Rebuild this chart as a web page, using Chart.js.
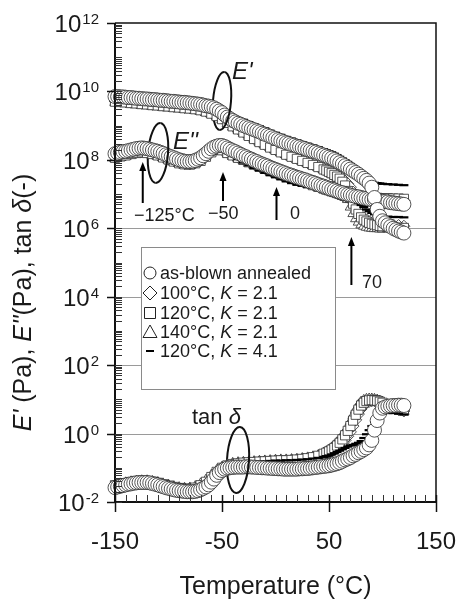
<!DOCTYPE html>
<html>
<head>
<meta charset="utf-8">
<script src="https://cdn.jsdelivr.net/npm/chart.js@4.4.1/dist/chart.umd.min.js"></script>
<style>
  html, body { margin: 0; padding: 0; background: #fff; }
  canvas { display: block; }
</style>
</head>
<body>
<canvas id="c" width="461" height="602"></canvas>
<script>
// Temperature grids (°C)
const tempFine = [
  -150,-147.5,-145,-142.5,-140,-137.5,-135,-132.5,-130,-127.5,
  -125,-122.5,-120,-117.5,-115,-112.5,-110,-107.5,-105,-102.5,
  -100,-97.5,-95,-92.5,-90,-87.5,-85,-82.5,-80,-77.5,
  -75,-72.5,-70,-67.5,-65,-62.5,-60,-57.5,-55,-52.5,
  -50,-47.5,-45,-42.5,-40,-37.5,-35,-32.5,-30,-27.5,
  -25,-22.5,-20,-17.5,-15,-12.5,-10,-7.5,-5,-2.5,
  0,2.5,5,7.5,10,12.5,15,17.5,20,22.5,
  25,27.5,30,32.5,35,37.5,40,42.5,45,47.5,
  50,52.5,55,57.5,60,62.5,65,67.5,70,72.5,
  75,77.5,80,82.5,85,87.5,90,92.5,95,97.5,
  100,102.5,105,107.5,110,112.5,115,117.5,120
];
const tempOther = [
  -150,-145,-140,-135,-130,-125,-120,-115,-110,-105,
  -100,-95,-90,-85,-80,-75,-70,-65,-60,-55,
  -50,-45,-40,-35,-30,-25,-20,-15,-10,-5,
  0,5,10,15,20,25,30,35,40,
  45,47.5,50,52.5,55,57.5,60,62.5,65,67.5,70,72.5,75,77.5,80,82.5,85,87.5,90,92.5,95,97.5,100,
  105,110,115,120
];

// as-blown annealed: log10 E' (Pa), log10 E'' (Pa), log10 tan δ
const logEpAsBlown = [
  9.85,9.85,9.84,9.84,9.83,9.82,9.82,9.81,9.80,9.80,
  9.79,9.78,9.78,9.77,9.76,9.76,9.75,9.74,9.74,9.73,
  9.72,9.71,9.71,9.70,9.69,9.68,9.68,9.67,9.66,9.65,
  9.64,9.63,9.62,9.60,9.58,9.57,9.55,9.52,9.48,9.43,
  9.38,9.31,9.25,9.20,9.15,9.11,9.07,9.04,9.00,8.97,
  8.94,8.91,8.88,8.85,8.82,8.78,8.75,8.72,8.69,8.65,
  8.62,8.59,8.56,8.53,8.50,8.48,8.45,8.43,8.40,8.38,
  8.35,8.33,8.30,8.28,8.25,8.23,8.20,8.17,8.14,8.11,
  8.08,8.05,8.01,7.97,7.92,7.88,7.83,7.78,7.73,7.68,
  7.63,7.58,7.52,7.46,7.40,7.32,7.20,6.90,6.55,6.35,
  6.22,6.16,6.10,6.05,6.00,5.96,5.92,5.89,5.86
];
const logEppAsBlown = [
  8.18,8.20,8.22,8.24,8.25,8.27,8.29,8.31,8.33,8.34,
  8.35,8.34,8.33,8.31,8.29,8.27,8.25,8.22,8.19,8.15,
  8.12,8.09,8.06,8.03,8.00,7.98,7.96,7.95,7.95,7.96,
  7.98,8.02,8.06,8.12,8.18,8.25,8.32,8.37,8.40,8.42,
  8.42,8.39,8.35,8.31,8.27,8.24,8.20,8.16,8.12,8.09,
  8.05,8.02,7.98,7.95,7.91,7.88,7.85,7.82,7.78,7.75,
  7.72,7.69,7.66,7.63,7.60,7.57,7.55,7.52,7.49,7.47,
  7.44,7.42,7.39,7.36,7.34,7.31,7.28,7.25,7.23,7.20,
  7.17,7.14,7.12,7.09,7.06,7.04,7.01,6.99,6.97,6.95,
  6.93,6.92,6.90,6.88,6.87,6.85,6.84,6.83,6.82,6.80,
  6.79,6.78,6.77,6.75,6.74,6.73,6.72,6.71,6.70
];
const logTanAsBlown = [
  -1.58,-1.56,-1.54,-1.52,-1.50,-1.48,-1.47,-1.45,-1.44,-1.43,
  -1.43,-1.43,-1.43,-1.44,-1.46,-1.48,-1.50,-1.53,-1.55,-1.58,
  -1.60,-1.62,-1.64,-1.66,-1.67,-1.68,-1.69,-1.70,-1.70,-1.70,
  -1.69,-1.67,-1.64,-1.60,-1.56,-1.50,-1.42,-1.33,-1.22,-1.14,
  -1.08,-1.04,-1.01,-1.00,-0.99,-0.98,-0.98,-0.98,-0.98,-0.97,
  -0.97,-0.98,-0.98,-0.99,-0.99,-1.00,-1.00,-1.01,-1.01,-1.02,
  -1.02,-1.03,-1.03,-1.04,-1.04,-1.04,-1.04,-1.04,-1.04,-1.03,
  -1.03,-1.02,-1.02,-1.01,-1.00,-0.99,-0.98,-0.97,-0.96,-0.95,
  -0.94,-0.92,-0.90,-0.88,-0.85,-0.81,-0.77,-0.74,-0.70,-0.65,
  -0.61,-0.56,-0.52,-0.47,-0.42,-0.33,-0.20,0.10,0.38,0.60,
  0.74,0.78,0.80,0.81,0.82,0.82,0.83,0.83,0.82
];

// 100 °C, K = 2.1
const logEp100K21 = [
  9.72,9.71,9.70,9.68,9.67,9.65,9.64,9.62,9.61,9.59,
  9.58,9.56,9.55,9.53,9.52,9.50,9.47,9.43,9.38,9.31,
  9.22,9.11,9.00,8.91,8.82,8.72,8.62,8.53,8.45,8.37,
  8.30,8.23,8.16,8.10,8.04,7.98,7.92,7.86,7.80,
  7.74,7.71,7.67,7.63,7.59,7.55,7.50,7.45,7.38,7.30,7.20,7.06,6.90,6.72,6.55,6.44,6.35,6.29,6.25,6.22,6.20,6.18,6.16,
  6.13,6.10,6.08,6.06
];
const logEpp100K21 = [
  8.08,8.12,8.15,8.19,8.22,8.24,8.22,8.19,8.15,8.09,
  8.03,7.97,7.92,7.89,7.88,7.91,7.98,8.10,8.24,8.31,
  8.30,8.22,8.15,8.08,8.02,7.95,7.88,7.82,7.76,7.70,
  7.64,7.58,7.53,7.48,7.43,7.38,7.33,7.28,7.23,
  7.18,7.15,7.13,7.10,7.08,7.05,7.03,7.00,6.98,6.96,6.94,6.92,6.91,6.90,6.89,6.88,6.88,6.87,6.87,6.86,6.86,6.85,6.85,
  6.84,6.83,6.82,6.81
];
const logTan100K21 = [
  -1.52,-1.49,-1.46,-1.43,-1.41,-1.40,-1.40,-1.42,-1.45,-1.49,
  -1.53,-1.57,-1.60,-1.62,-1.62,-1.60,-1.55,-1.46,-1.32,-1.15,
  -1.02,-0.94,-0.90,-0.88,-0.86,-0.85,-0.84,-0.83,-0.82,-0.81,
  -0.80,-0.80,-0.79,-0.78,-0.77,-0.75,-0.73,-0.70,-0.66,
  -0.61,-0.58,-0.55,-0.51,-0.47,-0.43,-0.38,-0.30,-0.20,-0.08,0.05,0.22,0.40,0.57,0.72,0.83,0.90,0.94,0.96,0.96,0.95,0.93,0.90,
  0.82,0.75,0.70,0.66
];

// 120 °C, K = 2.1
const logEp120K21 = [
  9.70,9.69,9.68,9.66,9.65,9.63,9.62,9.60,9.59,9.57,
  9.56,9.54,9.53,9.51,9.50,9.48,9.45,9.41,9.35,9.28,
  9.19,9.08,8.98,8.89,8.80,8.70,8.61,8.52,8.44,8.36,
  8.29,8.22,8.15,8.09,8.03,7.97,7.91,7.85,7.79,
  7.72,7.69,7.65,7.61,7.56,7.51,7.45,7.36,7.25,7.09,6.90,6.72,6.55,6.42,6.32,6.25,6.20,6.16,6.13,6.11,6.09,6.07,6.06,
  6.04,6.03,6.02,6.01
];
const logEpp120K21 = [
  8.06,8.10,8.13,8.17,8.20,8.22,8.20,8.17,8.13,8.07,
  8.01,7.95,7.90,7.87,7.86,7.90,7.97,8.09,8.22,8.29,
  8.28,8.20,8.13,8.06,8.00,7.93,7.86,7.80,7.74,7.68,
  7.62,7.56,7.51,7.46,7.41,7.36,7.31,7.26,7.21,
  7.16,7.13,7.11,7.08,7.06,7.03,7.01,6.98,6.96,6.94,6.93,6.92,6.91,6.90,6.90,6.90,6.90,6.89,6.89,6.89,6.89,6.88,6.88,
  6.88,6.87,6.87,6.86
];
const logTan120K21 = [
  -1.51,-1.48,-1.45,-1.42,-1.40,-1.39,-1.39,-1.41,-1.44,-1.48,
  -1.52,-1.56,-1.59,-1.61,-1.61,-1.58,-1.51,-1.41,-1.27,-1.12,
  -1.00,-0.93,-0.89,-0.87,-0.85,-0.84,-0.83,-0.82,-0.81,-0.80,
  -0.79,-0.78,-0.78,-0.77,-0.76,-0.74,-0.72,-0.69,-0.65,
  -0.59,-0.56,-0.52,-0.47,-0.42,-0.35,-0.27,-0.17,-0.05,0.08,0.22,0.38,0.55,0.70,0.82,0.90,0.95,0.97,0.98,0.97,0.96,0.93,0.90,
  0.83,0.76,0.71,0.67
];

// 140 °C, K = 2.1
const logEp140K21 = [
  9.68,9.67,9.66,9.64,9.63,9.61,9.60,9.58,9.57,9.55,
  9.54,9.52,9.51,9.49,9.48,9.46,9.43,9.39,9.33,9.26,
  9.17,9.06,8.96,8.87,8.78,8.69,8.60,8.51,8.43,8.35,
  8.28,8.21,8.14,8.08,8.02,7.96,7.90,7.84,7.78,
  7.71,7.67,7.63,7.58,7.53,7.46,7.38,7.24,7.05,6.84,6.62,6.43,6.28,6.18,6.10,6.06,6.03,6.01,6.00,5.99,5.99,5.98,5.98,
  5.98,5.97,5.97,5.96
];
const logEpp140K21 = [
  8.04,8.08,8.11,8.15,8.18,8.20,8.18,8.15,8.11,8.05,
  7.99,7.93,7.88,7.85,7.85,7.90,7.99,8.12,8.24,8.28,
  8.25,8.17,8.10,8.03,7.97,7.90,7.84,7.78,7.72,7.66,
  7.60,7.54,7.49,7.44,7.39,7.34,7.29,7.24,7.19,
  7.14,7.11,7.09,7.06,7.03,7.00,6.97,6.93,6.90,6.87,6.84,6.82,6.80,6.79,6.78,6.77,6.77,6.77,6.77,6.77,6.77,6.76,6.76,
  6.76,6.76,6.75,6.75
];
const logTan140K21 = [
  -1.50,-1.47,-1.44,-1.41,-1.39,-1.38,-1.38,-1.40,-1.43,-1.47,
  -1.51,-1.55,-1.58,-1.60,-1.59,-1.55,-1.47,-1.36,-1.22,-1.08,
  -0.98,-0.91,-0.87,-0.85,-0.84,-0.83,-0.82,-0.81,-0.80,-0.79,
  -0.78,-0.77,-0.77,-0.76,-0.75,-0.73,-0.71,-0.68,-0.64,
  -0.57,-0.53,-0.48,-0.42,-0.35,-0.27,-0.18,-0.07,0.05,0.19,0.35,0.53,0.70,0.83,0.92,0.97,1.00,1.01,1.01,1.00,0.98,0.95,0.92,
  0.84,0.76,0.70,0.65
];

// 120 °C, K = 4.1
const logEp120K41 = [
  9.82,9.81,9.80,9.79,9.78,9.77,9.76,9.74,9.73,9.72,
  9.70,9.69,9.67,9.66,9.64,9.62,9.60,9.57,9.54,9.49,
  9.42,9.34,9.27,9.22,9.17,9.10,9.04,8.98,8.92,8.85,
  8.79,8.73,8.67,8.62,8.57,8.52,8.47,8.42,8.37,
  8.31,8.28,8.25,8.22,8.18,8.14,8.09,8.04,7.99,7.94,7.88,7.82,7.76,7.69,7.62,7.55,7.48,7.41,7.36,7.33,7.32,7.31,7.30,
  7.29,7.28,7.27,7.26
];
const logEpp120K41 = [
  8.10,8.14,8.18,8.22,8.25,8.27,8.25,8.21,8.17,8.11,
  8.04,7.98,7.93,7.90,7.89,7.92,7.99,8.10,8.24,8.32,
  8.33,8.24,8.13,8.02,7.92,7.84,7.76,7.69,7.62,7.55,
  7.49,7.43,7.37,7.32,7.27,7.24,7.21,7.18,7.14,
  7.10,7.08,7.05,7.03,7.00,6.98,6.95,6.93,6.90,6.88,6.85,6.82,6.78,6.74,6.68,6.62,6.55,6.50,6.45,6.41,6.38,6.36,6.35,
  6.34,6.33,6.33,6.32
];
const logTan120K41 = [
  -1.55,-1.52,-1.49,-1.46,-1.44,-1.43,-1.43,-1.45,-1.48,-1.52,
  -1.56,-1.60,-1.63,-1.65,-1.65,-1.63,-1.58,-1.50,-1.37,-1.20,
  -1.05,-0.96,-0.91,-0.88,-0.86,-0.84,-0.83,-0.82,-0.81,-0.80,
  -0.79,-0.79,-0.78,-0.78,-0.77,-0.76,-0.75,-0.73,-0.71,
  -0.68,-0.66,-0.64,-0.61,-0.58,-0.54,-0.50,-0.46,-0.42,-0.38,-0.35,-0.33,-0.30,-0.27,-0.22,-0.13,-0.02,0.10,0.22,0.34,0.45,0.53,0.58,
  0.60,0.60,0.58,0.56
];

// Axis ticks
const xTickLabels = [-150, -50, 50, 150];
const yLabelPowers = [-2, 0, 2, 4, 6, 8, 10, 12];
const gridPowers = [0, 2, 4, 6];

// Legend / sample names
const sampleNames = [
  [['as-blown annealed', false]],
  [['100°C, ', false], ['K', true], [' = 2.1', false]],
  [['120°C, ', false], ['K', true], [' = 2.1', false]],
  [['140°C, ', false], ['K', true], [' = 2.1', false]],
  [['120°C, ', false], ['K', true], [' = 4.1', false]]
];

// ---------------------------------------------------------------
const FONT = '"Liberation Sans", Arial, Helvetica, sans-serif';
const INK = '#1a1a1a';

function toPoints(temps, logs) {
  return temps.map((t, i) => ({ x: t, y: Math.pow(10, logs[i]) }));
}

const markerStyles = [
  { pointStyle: 'circle',  pointRadius: 7,   pointBackgroundColor: '#fff', pointBorderColor: '#2a2a2a', pointBorderWidth: 0.8 },
  { pointStyle: 'line',    pointRadius: 4.5, pointBackgroundColor: '#000', pointBorderColor: '#000',    pointBorderWidth: 2.2 },
  { pointStyle: 'rect',    pointRadius: 6.5, pointBackgroundColor: '#fff', pointBorderColor: '#2a2a2a', pointBorderWidth: 0.8 },
  { pointStyle: 'rectRot', pointRadius: 6,   pointBackgroundColor: '#fff', pointBorderColor: '#2a2a2a', pointBorderWidth: 0.8 },
  { pointStyle: 'triangle',pointRadius: 6,   pointBackgroundColor: '#fff', pointBorderColor: '#2a2a2a', pointBorderWidth: 0.8 }
];

// drawing order: first entry ends up on top
const seriesSets = [
  { T: tempFine,  curves: [logEpAsBlown, logEppAsBlown, logTanAsBlown], style: markerStyles[0] },
  { T: tempOther, curves: [logEp120K41, logEpp120K41, logTan120K41],    style: markerStyles[1] },
  { T: tempOther, curves: [logEp120K21, logEpp120K21, logTan120K21],    style: markerStyles[2] },
  { T: tempOther, curves: [logEp100K21, logEpp100K21, logTan100K21],    style: markerStyles[3] },
  { T: tempOther, curves: [logEp140K21, logEpp140K21, logTan140K21],    style: markerStyles[4] }
];

const datasets = [];
seriesSets.forEach(s => {
  s.curves.forEach(c => {
    datasets.push(Object.assign({ data: toPoints(s.T, c), clip: false, showLine: false }, s.style));
  });
});

// ---------------------------------------------------------------
function richWidth(ctx, parts, size) {
  let w = 0;
  parts.forEach(([t, it]) => { ctx.font = (it ? 'italic ' : '') + size + 'px ' + FONT; w += ctx.measureText(t).width; });
  return w;
}
function drawRich(ctx, x, y, parts, size, align) {
  let cx = x;
  if (align === 'center') cx = x - richWidth(ctx, parts, size) / 2;
  ctx.textAlign = 'left';
  parts.forEach(([t, it]) => {
    ctx.font = (it ? 'italic ' : '') + size + 'px ' + FONT;
    ctx.fillText(t, cx, y);
    cx += ctx.measureText(t).width;
  });
}

const loops = [
  { cx: 222, cy: 101, rx: 9,  ry: 29, rot: 0.08 },
  { cx: 158, cy: 153, rx: 10, ry: 30, rot: 0.08 },
  { cx: 238, cy: 460, rx: 11, ry: 33, rot: 0.06 }
];
const arrows = [
  { t: -125, y0: 203, y1: 162 },
  { t: -50,  y0: 201, y1: 172 },
  { t: 0,    y0: 220, y1: 187 },
  { t: 70,   y0: 285, y1: 237 }
];

function drawArrow(ctx, x, y0, y1) {
  ctx.beginPath(); ctx.moveTo(x, y0); ctx.lineTo(x, y1 + 6); ctx.stroke();
  ctx.beginPath(); ctx.moveTo(x, y1); ctx.lineTo(x - 3.5, y1 + 9); ctx.lineTo(x + 3.5, y1 + 9); ctx.closePath(); ctx.fill();
}

function drawLegendMarker(ctx, kind, x, y) {
  ctx.save();
  ctx.strokeStyle = '#222'; ctx.fillStyle = '#fff'; ctx.lineWidth = 1;
  ctx.beginPath();
  if (kind === 0) { ctx.arc(x, y, 6, 0, Math.PI * 2); ctx.fill(); ctx.stroke(); }
  else if (kind === 1) { ctx.moveTo(x, y - 7); ctx.lineTo(x + 7, y); ctx.lineTo(x, y + 7); ctx.lineTo(x - 7, y); ctx.closePath(); ctx.fill(); ctx.stroke(); }
  else if (kind === 2) { ctx.rect(x - 5.5, y - 5.5, 11, 11); ctx.fill(); ctx.stroke(); }
  else if (kind === 3) { ctx.moveTo(x, y - 7); ctx.lineTo(x + 7, y + 5.5); ctx.lineTo(x - 7, y + 5.5); ctx.closePath(); ctx.fill(); ctx.stroke(); }
  else { ctx.lineWidth = 2; ctx.strokeStyle = '#000'; ctx.moveTo(x - 4, y); ctx.lineTo(x + 4, y); ctx.stroke(); }
  ctx.restore();
}

const decor = {
  id: 'decor',
  beforeDatasetsDraw(chart) {
    const { ctx, chartArea: a, scales: { y } } = chart;
    ctx.save();
    ctx.strokeStyle = '#9a9a9a'; ctx.lineWidth = 1;
    gridPowers.forEach(p => {
      const py = Math.round(y.getPixelForValue(Math.pow(10, p))) + 0.5;
      ctx.beginPath(); ctx.moveTo(a.left, py); ctx.lineTo(a.right, py); ctx.stroke();
    });
    // back halves of the loops around the curve bundles
    ctx.strokeStyle = '#111'; ctx.lineWidth = 2;
    loops.forEach(l => {
      ctx.beginPath(); ctx.ellipse(l.cx, l.cy, l.rx, l.ry, l.rot, Math.PI / 2, Math.PI * 1.5); ctx.stroke();
    });
    ctx.restore();
  },
  afterDatasetsDraw(chart) {
    const { ctx, chartArea: a, scales: { x, y } } = chart;
    ctx.save();

    // front halves of the loops
    ctx.strokeStyle = '#111'; ctx.lineWidth = 2;
    loops.forEach(l => {
      ctx.beginPath(); ctx.ellipse(l.cx, l.cy, l.rx, l.ry, l.rot, -Math.PI / 2, Math.PI / 2); ctx.stroke();
    });

    // frame
    ctx.strokeStyle = '#111';
    ctx.lineWidth = 1.5;
    ctx.beginPath(); ctx.moveTo(a.left, a.top); ctx.lineTo(a.right, a.top); ctx.lineTo(a.right, a.bottom); ctx.stroke();
    ctx.lineWidth = 2;
    ctx.beginPath(); ctx.moveTo(a.left, a.top); ctx.lineTo(a.left, a.bottom); ctx.lineTo(a.right + 1, a.bottom); ctx.stroke();

    // y ticks: decades and log minors inside, labelled decades outside
    ctx.lineWidth = 1; ctx.strokeStyle = '#333';
    for (let e = -2; e < 12; e++) {
      for (let m = 1; m < 10; m++) {
        const py = Math.round(y.getPixelForValue(m * Math.pow(10, e))) + 0.5;
        ctx.beginPath(); ctx.moveTo(a.left, py); ctx.lineTo(a.left + 7, py); ctx.stroke();
      }
    }
    ctx.strokeStyle = '#111'; ctx.lineWidth = 1.5;
    yLabelPowers.forEach(p => {
      const py = Math.round(y.getPixelForValue(Math.pow(10, p))) + 0.5;
      ctx.beginPath(); ctx.moveTo(a.left - 8, py); ctx.lineTo(a.left, py); ctx.stroke();
    });

    // x ticks: minors every 10 °C inside, labelled majors crossing the axis
    ctx.lineWidth = 1; ctx.strokeStyle = '#333';
    for (let t = -150; t <= 150; t += 10) {
      const px = Math.round(x.getPixelForValue(t)) + 0.5;
      ctx.beginPath(); ctx.moveTo(px, a.bottom); ctx.lineTo(px, a.bottom - 7); ctx.stroke();
    }
    ctx.strokeStyle = '#111'; ctx.lineWidth = 1.5;
    xTickLabels.forEach(t => {
      const px = Math.round(x.getPixelForValue(t)) + 0.5;
      ctx.beginPath(); ctx.moveTo(px, a.bottom + 10); ctx.lineTo(px, a.bottom - 7); ctx.stroke();
    });

    ctx.fillStyle = INK; ctx.textBaseline = 'alphabetic';

    // y tick labels 10^n
    yLabelPowers.forEach(p => {
      const py = y.getPixelForValue(Math.pow(10, p));
      const exp = String(p);
      ctx.font = '15px ' + FONT;
      const ew = ctx.measureText(exp).width;
      const right = a.left - 16;
      ctx.textAlign = 'left';
      ctx.fillText(exp, right - ew, py + 1);
      ctx.font = '24px ' + FONT;
      ctx.textAlign = 'right';
      ctx.fillText('10', right - ew - 1, py + 9);
    });

    // x tick labels
    ctx.font = '24px ' + FONT; ctx.textAlign = 'center';
    xTickLabels.forEach(t => ctx.fillText(String(t), x.getPixelForValue(t), a.bottom + 47));

    // axis titles
    ctx.font = '25px ' + FONT; ctx.textAlign = 'center';
    ctx.fillText('Temperature (°C)', (a.left + a.right) / 2, a.bottom + 92);

    ctx.save();
    ctx.translate(22, (a.top + a.bottom) / 2 + 40);
    ctx.rotate(-Math.PI / 2);
    drawRich(ctx, 0, 9, [["E'", true], [' (Pa), ', false], ["E''", true], ['(Pa), tan ', false], ['δ', true], ['(-)', false]], 25, 'center');
    ctx.restore();

    // curve-group labels
    drawRich(ctx, 232, 79, [["E'", true]], 24);
    drawRich(ctx, 173, 149, [["E''", true]], 24);
    drawRich(ctx, 192, 424, [['tan ', false], ['δ', true]], 22);

    // transition arrows
    ctx.strokeStyle = '#000'; ctx.fillStyle = '#000'; ctx.lineWidth = 2;
    arrows.forEach(ar => drawArrow(ctx, x.getPixelForValue(ar.t) + 1, ar.y0, ar.y1));
    ctx.fillStyle = INK;
    ctx.font = '18px ' + FONT; ctx.textAlign = 'left';
    ctx.fillText('−125°C', 134, 221);
    ctx.fillText('−50', 208, 219);
    ctx.fillText('0', 290, 219);
    ctx.fillText('70', 362, 288);

    // legend
    const L = { x: 141, y: 247, w: 194, h: 142 };
    ctx.fillStyle = '#fff'; ctx.fillRect(L.x, L.y, L.w, L.h);
    ctx.strokeStyle = '#8a8a8a'; ctx.lineWidth = 1;
    ctx.strokeRect(L.x + 0.5, L.y + 0.5, L.w, L.h);
    const rows = [273, 293, 313, 332, 351];
    sampleNames.forEach((parts, i) => {
      drawLegendMarker(ctx, i, 150, rows[i]);
      ctx.fillStyle = INK;
      drawRich(ctx, 160, rows[i] + 6, parts, 18);
    });

    ctx.restore();
  }
};

new Chart(document.getElementById('c'), {
  type: 'scatter',
  data: { datasets },
  options: {
    responsive: false,
    devicePixelRatio: 1,
    animation: false,
    events: [],
    layout: { padding: { left: 0, right: 25, top: 23, bottom: 0 } },
    plugins: { legend: { display: false }, tooltip: { enabled: false } },
    scales: {
      x: {
        type: 'linear', min: -150, max: 150,
        grid: { display: false }, border: { display: false },
        ticks: { display: false },
        afterFit(s) { s.height = 100; }
      },
      y: {
        type: 'logarithmic', min: 1e-2, max: 1e12,
        grid: { display: false }, border: { display: false },
        ticks: { display: false },
        afterFit(s) { s.width = 115; }
      }
    }
  },
  plugins: [decor]
});
</script>
</body>
</html>
